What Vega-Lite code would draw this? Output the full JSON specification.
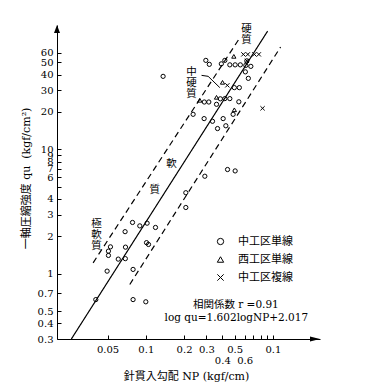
{
  "$schema": "https://vega.github.io/schema/vega-lite/v6.json",
  "autosize": {"type": "none"},
  "width": 263,
  "height": 314,
  "padding": {"left": 57, "top": 25, "right": 52, "bottom": 50},
  "background": "white",
  "config": {"view": {"stroke": null}},
  "datasets": {
    "points": [
      {"NP": 0.0404, "qu": 0.622, "type": "中工区単線"},
      {"NP": 0.0794, "qu": 0.622, "type": "中工区単線"},
      {"NP": 0.100, "qu": 0.597, "type": "中工区単線"},
      {"NP": 0.0496, "qu": 1.053, "type": "中工区単線"},
      {"NP": 0.0794, "qu": 1.087, "type": "中工区単線"},
      {"NP": 0.0607, "qu": 1.315, "type": "中工区単線"},
      {"NP": 0.0690, "qu": 1.327, "type": "中工区単線"},
      {"NP": 0.0508, "qu": 1.524, "type": "中工区単線"},
      {"NP": 0.0508, "qu": 1.408, "type": "中工区単線"},
      {"NP": 0.0527, "qu": 1.650, "type": "中工区単線"},
      {"NP": 0.0692, "qu": 1.641, "type": "中工区単線"},
      {"NP": 0.1013, "qu": 1.783, "type": "中工区単線"},
      {"NP": 0.1050, "qu": 1.725, "type": "中工区単線"},
      {"NP": 0.0687, "qu": 2.185, "type": "中工区単線"},
      {"NP": 0.0786, "qu": 2.591, "type": "中工区単線"},
      {"NP": 0.0897, "qu": 2.432, "type": "中工区単線"},
      {"NP": 0.1024, "qu": 2.557, "type": "中工区単線"},
      {"NP": 0.1192, "qu": 2.362, "type": "中工区単線"},
      {"NP": 0.2065, "qu": 3.418, "type": "中工区単線"},
      {"NP": 0.2065, "qu": 4.493, "type": "中工区単線"},
      {"NP": 0.2915, "qu": 6.095, "type": "中工区単線"},
      {"NP": 0.4398, "qu": 6.899, "type": "中工区単線"},
      {"NP": 0.5049, "qu": 6.723, "type": "中工区単線"},
      {"NP": 0.3669, "qu": 14.72, "type": "中工区単線"},
      {"NP": 0.4265, "qu": 15.50, "type": "中工区単線"},
      {"NP": 0.2877, "qu": 17.70, "type": "中工区単線"},
      {"NP": 0.3350, "qu": 16.84, "type": "中工区単線"},
      {"NP": 0.4062, "qu": 17.70, "type": "中工区単線"},
      {"NP": 0.4867, "qu": 19.16, "type": "中工区単線"},
      {"NP": 0.4975, "qu": 20.83, "type": "西工区単線"},
      {"NP": 0.2357, "qu": 19.16, "type": "中工区単線"},
      {"NP": 0.8297, "qu": 21.41, "type": "中工区複線"},
      {"NP": 0.2661, "qu": 24.83, "type": "西工区単線"},
      {"NP": 0.2888, "qu": 24.06, "type": "中工区単線"},
      {"NP": 0.3133, "qu": 24.06, "type": "中工区単線"},
      {"NP": 0.3602, "qu": 26.24, "type": "西工区単線"},
      {"NP": 0.3861, "qu": 25.52, "type": "中工区単線"},
      {"NP": 0.4188, "qu": 25.62, "type": "中工区単線"},
      {"NP": 0.4585, "qu": 25.62, "type": "中工区単線"},
      {"NP": 0.3602, "qu": 23.06, "type": "中工区単線"},
      {"NP": 0.5398, "qu": 24.15, "type": "中工区単線"},
      {"NP": 0.4017, "qu": 34.62, "type": "西工区単線"},
      {"NP": 0.4383, "qu": 32.75, "type": "中工区複線"},
      {"NP": 0.4975, "qu": 31.39, "type": "中工区単線"},
      {"NP": 0.5447, "qu": 31.39, "type": "中工区単線"},
      {"NP": 0.6412, "qu": 37.27, "type": "中工区単線"},
      {"NP": 0.6075, "qu": 42.03, "type": "中工区単線"},
      {"NP": 0.2968, "qu": 51.97, "type": "中工区単線"},
      {"NP": 0.3162, "qu": 48.29, "type": "中工区単線"},
      {"NP": 0.3930, "qu": 48.73, "type": "中工区単線"},
      {"NP": 0.4188, "qu": 51.97, "type": "中工区単線"},
      {"NP": 0.4930, "qu": 55.98, "type": "西工区単線"},
      {"NP": 0.4585, "qu": 47.84, "type": "中工区単線"},
      {"NP": 0.5049, "qu": 47.84, "type": "中工区単線"},
      {"NP": 0.5547, "qu": 47.84, "type": "中工区単線"},
      {"NP": 0.6130, "qu": 47.40, "type": "中工区単線"},
      {"NP": 0.6710, "qu": 46.53, "type": "中工区単線"},
      {"NP": 0.6241, "qu": 51.50, "type": "中工区単線"},
      {"NP": 0.6241, "qu": 51.50, "type": "中工区複線"},
      {"NP": 0.5859, "qu": 58.08, "type": "中工区複線"},
      {"NP": 0.6355, "qu": 58.08, "type": "中工区複線"},
      {"NP": 0.7151, "qu": 58.08, "type": "中工区複線"},
      {"NP": 0.7757, "qu": 58.08, "type": "中工区複線"},
      {"NP": 0.1368, "qu": 38.68, "type": "中工区単線"}
    ],
    "lines": [
      {"line": "solid", "NP": 0.02594, "qu": 0.3},
      {"line": "solid", "NP": 0.91, "qu": 89.4},
      {"line": "upper", "NP": 0.0385, "qu": 1.228},
      {"line": "upper", "NP": 0.55, "qu": 79.1},
      {"line": "lower", "NP": 0.0748, "qu": 0.823},
      {"line": "lower", "NP": 1.15, "qu": 66.5}
    ],
    "pointer": [
      {"NP": 0.2746, "qu": 39.4},
      {"NP": 0.3094, "qu": 38.7},
      {"NP": 0.3826, "qu": 31.39}
    ],
    "texts": [
      {"t": "硬\n質", "NP": 0.6208, "qu": 92.2},
      {"t": "中\n硬\n質", "NP": 0.229, "qu": 42.03},
      {"t": "軟", "NP": 0.1594, "qu": 7.704},
      {"t": "質", "NP": 0.1178, "qu": 4.706},
      {"t": "極\n軟\n質", "NP": 0.0409, "qu": 2.533},
      {"t": "相関係数 r =0.91", "NP": 0.5113, "qu": 0.562},
      {"t": "log qu=1.602logNP+2.017", "NP": 0.516, "qu": 0.4394}
    ],
    "arrows": [
      {"dir": "up", "NP": 0.02, "qu": 100},
      {"dir": "right", "NP": 2.35, "qu": 0.3}
    ]
  },
  "encoding": {
    "x": {
      "field": "NP", "type": "quantitative",
      "scale": {"type": "log", "domain": [0.02, 2.35], "nice": false, "zero": false},
      "axis": {
        "values": [0.05, 0.1, 0.2, 0.3, 0.4, 0.5, 0.6, 0.7, 0.8, 0.9, 1],
        "labelExpr": "datum.value == 1 ? '0.1' : (datum.value == 0.4 || datum.value == 0.6) ? ['', toString(datum.value)] : datum.value > 0.65 ? '' : toString(datum.value)",
        "grid": false,
        "domainColor": "black",
        "tickColor": "black",
        "tickSize": -4,
        "labelPadding": 9,
        "labelFont": "DejaVu Serif",
        "labelFontSize": 10,
        "labelColor": "black",
        "labelOverlap": false,
        "labelFlush": false,
        "labelLineHeight": 11,
        "title": "針貫入勾配 NP (kgf/cm)",
        "titleFont": "DejaVu Serif, Noto Sans CJK JP",
        "titleFontSize": 11,
        "titleFontWeight": "normal",
        "titleColor": "black",
        "titleX": 129,
        "titleY": 37,
        "titleBaseline": "middle"
      }
    },
    "y": {
      "field": "qu", "type": "quantitative",
      "scale": {"type": "log", "domain": [0.3, 100], "nice": false, "zero": false},
      "axis": {
        "values": [0.3, 0.4, 0.5, 0.7, 1, 2, 3, 4, 5, 6, 7, 8, 9, 10, 20, 30, 40, 50, 60],
        "labelExpr": "datum.value == 5 ? '' : (datum.value == 8 || datum.value == 6) ? toString(datum.value) + '\u00a0\u00a0' : toString(datum.value)",
        "grid": false,
        "domainColor": "black",
        "tickColor": "black",
        "tickSize": -4,
        "labelPadding": 8,
        "labelFont": "DejaVu Serif",
        "labelFontSize": 10,
        "labelColor": "black",
        "labelOverlap": false,
        "labelFlush": false,
        "title": "一軸圧縮強度 qu\u00a0 (kgf/cm²)",
        "titleFont": "DejaVu Serif, Noto Sans CJK JP",
        "titleFontSize": 11,
        "titleFontWeight": "normal",
        "titleColor": "black",
        "titleX": -31,
        "titleY": 153,
        "titleBaseline": "middle"
      }
    }
  },
  "layer": [
    {
      "data": {"name": "lines"},
      "mark": {"type": "line", "color": "black", "strokeWidth": 1.2},
      "encoding": {
        "detail": {"field": "line"},
        "strokeDash": {"field": "line", "type": "nominal", "scale": {"domain": ["solid", "upper", "lower"], "range": [[1, 0], [6, 4], [6, 4]]}, "legend": null}
      }
    },
    {
      "data": {"name": "pointer"},
      "mark": {"type": "line", "color": "black", "strokeWidth": 1},
      "encoding": {}
    },
    {
      "data": {"name": "points"},
      "mark": {"type": "point", "filled": false, "color": "black", "strokeWidth": 1, "size": 18, "opacity": 1},
      "encoding": {
        "shape": {
          "field": "type", "type": "nominal",
          "scale": {"domain": ["中工区単線", "西工区単線", "中工区複線"], "range": ["circle", "triangle-up", "M-1,-1L1,1M-1,1L1,-1"]},
          "legend": {
            "title": null,
            "orient": "none",
            "legendX": 158,
            "legendY": 211,
            "padding": 0,
            "symbolSize": 40,
            "symbolStrokeColor": "black",
            "symbolStrokeWidth": 1,
            "symbolFillColor": "transparent",
            "labelFont": "Noto Sans CJK JP",
            "labelFontSize": 11,
            "labelColor": "black",
            "labelOffset": 12,
            "rowPadding": 6
          }
        }
      }
    },
    {
      "data": {"name": "texts"},
      "mark": {"type": "text", "font": "DejaVu Serif, Noto Sans CJK JP", "fontSize": 10.5, "color": "black", "lineBreak": "\n", "lineHeight": 11, "align": "center", "baseline": "middle"},
      "encoding": {"text": {"field": "t"}}
    },
    {
      "data": {"name": "arrows"},
      "transform": [{"filter": "datum.dir == 'up'"}],
      "mark": {"type": "point", "shape": "M0,0L-0.75,2L0.75,2Z", "size": 64, "filled": true, "color": "black", "opacity": 1}
    },
    {
      "data": {"name": "arrows"},
      "transform": [{"filter": "datum.dir == 'right'"}],
      "mark": {"type": "point", "shape": "M0,0L-2.5,-0.6L-2.5,0.6Z", "size": 64, "filled": true, "color": "black", "opacity": 1}
    }
  ]
}
